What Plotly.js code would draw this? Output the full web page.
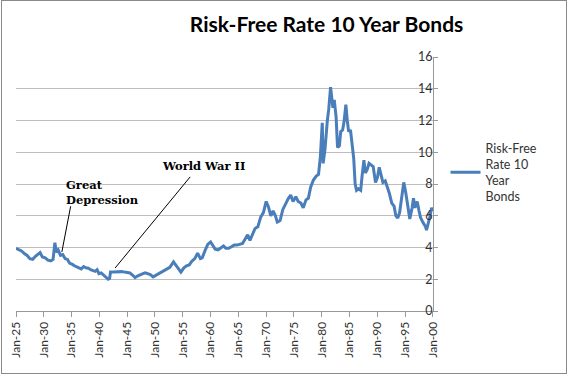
<!DOCTYPE html>
<html><head><meta charset="utf-8">
<script src="https://cdn.plot.ly/plotly-3.0.1.min.js"></script>
<style>html,body{margin:0;padding:0;background:#fff}#frame{position:absolute;left:1px;top:0;width:564px;height:372px;border:1px solid #8a8a8a;pointer-events:none}</style>
</head><body>
<div id="chart" style="width:568px;height:376px;"></div>
<div id="frame"></div>
<script>
const seriesName = "Risk-Free<br>Rate 10<br>Year<br>Bonds";
const dates = [
"1925-01","1925-07","1926-01","1926-07","1927-01","1927-07","1928-01","1928-07","1929-01","1929-05",
"1929-10","1930-04","1930-10","1931-04","1931-09","1932-01","1932-04","1932-08","1933-01","1933-06",
"1933-11","1934-04","1934-09","1935-02","1935-07","1935-12","1936-05","1936-10","1937-03","1937-08",
"1938-01","1938-06","1938-11","1939-04","1939-08","1939-12","1940-05","1940-10","1941-03","1941-08",
"1941-11","1942-01","1942-07","1943-01","1943-07","1944-01","1944-07","1945-01","1945-07","1946-01",
"1946-06","1946-11","1947-05","1947-11","1948-04","1948-09","1949-03","1949-09","1950-03","1950-09",
"1951-03","1951-09","1952-03","1952-09","1953-05","1953-10","1954-04","1954-09","1955-03","1955-09",
"1956-03","1956-09","1957-03","1957-09","1958-03","1958-07","1959-01","1959-07","1960-01","1960-06",
"1960-11","1961-05","1961-11","1962-05","1962-10","1963-04","1963-10","1964-04","1964-10","1965-04",
"1965-10","1966-04","1966-09","1967-02","1967-08","1968-01","1968-07","1969-01","1969-07","1970-01",
"1970-06","1970-11","1971-04","1971-09","1972-01","1972-07","1973-01","1973-07","1974-01","1974-06",
"1974-11","1975-05","1975-10","1976-04","1976-09","1977-03","1977-08","1978-01","1978-07","1979-01",
"1979-06","1979-10","1980-02","1980-04","1980-08","1981-01","1981-04","1981-08","1981-10","1982-01",
"1982-04","1982-08","1982-11","1983-03","1983-06","1983-10","1984-01","1984-05","1984-08","1984-11",
"1985-03","1985-06","1985-10","1986-01","1986-04","1986-08","1987-01","1987-04","1987-08","1987-11",
"1988-03","1988-07","1988-11","1989-04","1989-09","1990-01","1990-05","1990-09","1991-01","1991-06",
"1991-11","1992-03","1992-08","1993-01","1993-05","1993-09","1994-01","1994-05","1994-10","1995-02",
"1995-07","1995-11","1996-04","1996-07","1996-10","1997-03","1997-07","1997-10","1998-03","1998-09",
"1998-11","1999-03","1999-07","1999-10","2000-01"
];
const rates = [
3.95,3.85,3.78,3.62,3.5,3.3,3.25,3.45,3.6,3.68,
3.4,3.35,3.2,3.15,3.25,4.3,3.7,3.85,3.5,3.55,
3.3,3.25,3.0,2.95,2.85,2.8,2.72,2.65,2.8,2.72,
2.7,2.6,2.55,2.5,2.6,2.35,2.4,2.25,2.1,2.0,
2.05,2.45,2.45,2.47,2.45,2.48,2.45,2.42,2.4,2.25,
2.1,2.2,2.25,2.35,2.4,2.35,2.3,2.15,2.25,2.35,
2.45,2.6,2.7,2.75,3.1,2.9,2.6,2.45,2.7,2.85,
2.9,3.15,3.3,3.65,3.3,3.35,3.8,4.2,4.35,4.1,
3.9,3.85,3.95,4.1,3.95,3.95,4.05,4.15,4.15,4.2,
4.25,4.55,4.8,4.45,4.9,5.2,5.3,5.9,6.2,6.9,
6.55,6.0,6.3,6.0,5.6,5.7,6.4,6.8,7.1,7.3,
6.9,7.2,6.9,6.8,6.5,7.0,7.1,7.8,8.25,8.5,
8.6,9.7,11.85,9.3,10.2,12.0,12.7,14.1,13.4,12.8,
13.3,12.2,10.3,10.4,11.3,11.4,11.9,13.0,12.0,11.3,
11.4,10.4,9.6,8.0,7.6,7.7,7.6,8.5,9.5,8.7,
8.9,9.3,9.2,9.1,8.1,8.4,9.05,8.6,8.1,8.2,
7.8,7.4,6.8,6.6,6.0,5.85,6.2,7.2,8.1,7.5,
6.5,5.8,6.5,7.1,6.5,6.9,6.3,5.9,5.6,5.3,
5.1,5.5,6.0,6.5,6.3
];
const yTicks = [0,2,4,6,8,10,12,14,16];
const xTicks = ["1925-01-01","1930-01-01","1935-01-01","1940-01-01","1945-01-01","1950-01-01","1955-01-01","1960-01-01","1965-01-01","1970-01-01","1975-01-01","1980-01-01","1985-01-01","1990-01-01","1995-01-01","2000-01-01"];
const titleText = "Risk-Free Rate 10 Year Bonds";
const notes = [
  {text: "Great<br>Depression", x: "1940-08", y: 7.45},
  {text: "World War II", x: "1958-09", y: 9.13}
];

const trace = {
  x: dates, y: rates, type: "scatter", mode: "lines", name: seriesName,
  line: {color: "#4a7ebb", width: 3}
};
const annFont = {family: "DejaVu Serif, serif", size: 11.5, color: "#000"};
const layout = {
  width: 568, height: 376,
  margin: {l: 16, r: 135, t: 57, b: 65},
  paper_bgcolor: "#fff", plot_bgcolor: "#fff",
  font: {family: "Lato, 'Open Sans', sans-serif", color: "#333", size: 12},
  title: {text: "<b>" + titleText + "</b>", font: {family: "Lato, sans-serif", size: 21, color: "#000"},
          xref: "container", x: 0.575, xanchor: "center", yref: "container", y: 0.935, yanchor: "middle"},
  showlegend: true,
  legend: {x: 1.03, xanchor: "left", y: 0.7, yanchor: "top", font: {size: 12.5, color: "#333"},
           bgcolor: "rgba(0,0,0,0)", itemwidth: 30},
  xaxis: {
    type: "date", range: ["1925-01-01", "2000-01-03"],
    tickmode: "array", tickvals: xTicks,
    tickformat: "%b-%y", tickangle: -90,
    showgrid: false, zeroline: false,
    showline: true, linecolor: "#999", linewidth: 1,
    ticks: "outside", ticklen: 5, tickcolor: "#999",
    tickfont: {size: 12, color: "#333"}
  },
  yaxis: {
    side: "right", range: [0, 16], tickvals: yTicks, ticklabelposition: "inside",
    ticklabeloverflow: "allow",
    showgrid: true, gridcolor: "#bdbdbd", gridwidth: 1,
    zeroline: false, showline: true, linecolor: "#999", linewidth: 1,
    ticks: "outside", ticklen: 4, tickcolor: "#999",
    tickfont: {size: 12.5, color: "#333"}
  },
  annotations: notes.map(n => ({text: "<b>" + n.text + "</b>", x: n.x, y: n.y, xref: "x", yref: "y",
    showarrow: false, align: "left", font: annFont})),
  shapes: [
    {type: "line", xref: "x", yref: "y", x0: "1934-11", y0: 6.6, x1: "1933-04", y1: 3.72, line: {color: "#000", width: 1}},
    {type: "line", xref: "x", yref: "y", x0: "1956-05", y0: 8.45, x1: "1942-11", y1: 2.71, line: {color: "#000", width: 1}}
  ]
};
Plotly.newPlot("chart", [trace], layout, {displayModeBar: false, staticPlot: true});
</script>
</body></html>
